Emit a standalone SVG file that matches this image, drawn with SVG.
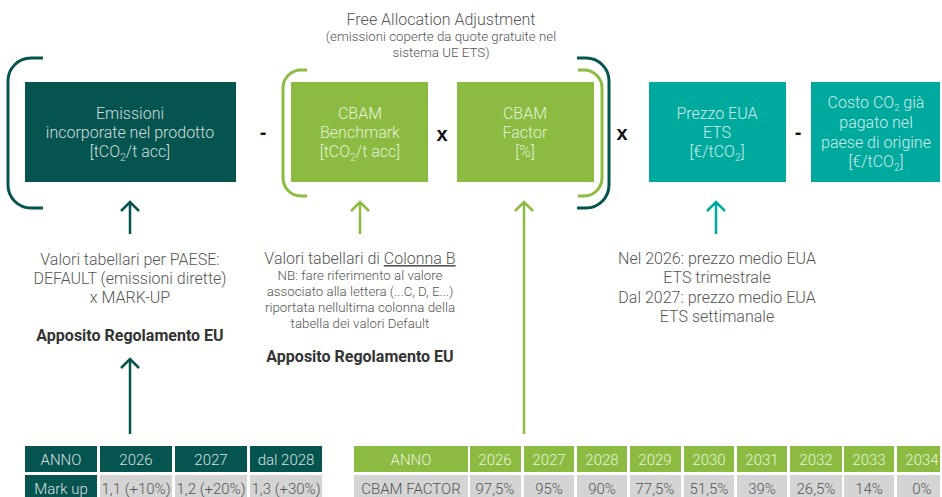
<svg xmlns="http://www.w3.org/2000/svg" width="942" height="497" viewBox="0 0 942 497">
<style>
.t{font-family:Roboto,"Liberation Sans",sans-serif;font-weight:300;text-anchor:middle}
.bx{fill:#ffffff;fill-opacity:0.82;font-size:16px}
.g{fill:#555555}
.b{font-family:Roboto,"Liberation Sans",sans-serif;font-weight:700;text-anchor:middle;fill:#333333;font-size:16px}
.op{font-family:"Liberation Sans",Arial,sans-serif;font-weight:900;text-anchor:middle;fill:#111111;font-size:20px}
.dk{fill:#06544f}.gr{fill:#8bbb40}.tl{fill:#00a99d}.lg{fill:#d4d4d4}
.br{fill:none;stroke-width:3}
.ar{fill:none;stroke-width:2.5;stroke-linecap:butt}
.th{fill:#ffffff;fill-opacity:0.85;font-size:15px}
.td{fill:#555555;font-size:15px}
</style>
<g id="title">
<text class="t g" x="441" y="25" font-size="16">Free Allocation Adjustment</text>
<text class="t g" x="441" y="41" font-size="13.3">(emissioni coperte da quote gratuite nel</text>
<text class="t g" x="441" y="57" font-size="13.3">sistema UE ETS)</text>
</g>
<g id="brackets">
<path class="br" stroke="#06544f" d="M43,58 H31 A23,23 0 0 0 8,81 V185 A23,23 0 0 0 31,208 H43"/>
<path class="br" stroke="#8bbb40" d="M307,70 H301 A18,18 0 0 0 283,88 V178 A18,18 0 0 0 301,196 H307"/>
<path class="br" stroke="#8bbb40" d="M578,70 H584 A18,18 0 0 1 602,88 V178 A18,18 0 0 1 584,196 H578"/>
<path class="br" stroke="#06544f" d="M577,58 H586 A23,23 0 0 1 609,81 V185 A23,23 0 0 1 586,208 H577"/>
</g>
<g id="node-emissioni">
<rect class="dk" x="25" y="82" width="211" height="100"/>
<text class="t bx" x="130" y="119">Emissioni</text>
<text class="t bx" x="130" y="138">incorporate nel prodotto</text>
<text class="t bx" x="130" y="157">[tCO<tspan font-size="10.5" dy="4">2</tspan><tspan dy="-4">/t acc]</tspan></text>
</g>
<g id="node-benchmark">
<rect class="gr" x="291" y="82" width="137" height="100"/>
<text class="t bx" x="360" y="119">CBAM</text>
<text class="t bx" x="360" y="138">Benchmark</text>
<text class="t bx" x="360" y="157">[tCO<tspan font-size="10.5" dy="4">2</tspan><tspan dy="-4">/t acc]</tspan></text>
</g>
<g id="node-factor">
<rect class="gr" x="457" y="82" width="137" height="100"/>
<text class="t bx" x="525" y="119">CBAM</text>
<text class="t bx" x="525" y="138">Factor</text>
<text class="t bx" x="525" y="157">[%]</text>
</g>
<g id="node-prezzo">
<rect class="tl" x="649" y="82" width="137" height="100"/>
<text class="t bx" x="717" y="119">Prezzo EUA</text>
<text class="t bx" x="717" y="138">ETS</text>
<text class="t bx" x="717" y="157">[€/tCO<tspan font-size="10.5" dy="4">2</tspan><tspan dy="-4">]</tspan></text>
</g>
<g id="node-costo">
<rect class="tl" x="811" y="82" width="129" height="100"/>
<text class="t bx" x="876" y="108">Costo CO<tspan font-size="9.5" dy="3">2</tspan><tspan dy="-3"> già</tspan></text>
<text class="t bx" x="876" y="128">pagato nel</text>
<text class="t bx" x="876" y="148">paese di origine</text>
<text class="t bx" x="876" y="167">[€/tCO<tspan font-size="10.5" dy="4">2</tspan><tspan dy="-4">]</tspan></text>
</g>
<g id="operators">
<text class="op" x="263" y="139">-</text>
<text class="op" x="442" y="141">x</text>
<text class="op" x="622" y="140">x</text>
<text class="op" x="798" y="139">-</text>
</g>
<g id="connectors">
<path class="ar" stroke="#06544f" d="M130,234 V202 M121,211 L130,202 L139,211"/>
<path class="ar" stroke="#06544f" d="M130,434 V359 M121,368 L130,359 L139,368"/>
<path class="ar" stroke="#8bbb40" d="M360,234 V202 M351,211 L360,202 L369,211"/>
<path class="ar" stroke="#8bbb40" d="M524,434 V202 M515,211 L524,202 L533,211"/>
<path class="ar" stroke="#00a99d" d="M716,234 V202 M707,211 L716,202 L725,211"/>
</g>
<g id="note-emissioni">
<text class="t g" x="130" y="265" font-size="16">Valori tabellari per PAESE:</text>
<text class="t g" x="130" y="284" font-size="16">DEFAULT (emissioni dirette)</text>
<text class="t g" x="130" y="303" font-size="16">x MARK-UP</text>
<text class="b" x="130" y="341">Apposito Regolamento EU</text>
</g>
<g id="note-benchmark">
<text class="t g" x="360" y="264" font-size="16">Valori tabellari di <tspan text-decoration="underline">Colonna B</tspan></text>
<text class="t g" x="360" y="280" font-size="13.3">NB: fare riferimento al valore</text>
<text class="t g" x="360" y="296" font-size="13.3">associato alla lettera (...C, D, E...)</text>
<text class="t g" x="360" y="312" font-size="13.3">riportata nellultima colonna della</text>
<text class="t g" x="360" y="328" font-size="13.3">tabella dei valori Default</text>
<text class="b" x="360" y="362">Apposito Regolamento EU</text>
</g>
<g id="note-prezzo">
<text class="t g" x="717" y="264" font-size="16">Nel 2026: prezzo medio EUA</text>
<text class="t g" x="717" y="283" font-size="16">ETS trimestrale</text>
<text class="t g" x="717" y="303" font-size="16">Dal 2027: prezzo medio EUA</text>
<text class="t g" x="717" y="322" font-size="16">ETS settimanale</text>
</g>
<g id="table-markup">
<rect class="dk" x="25" y="446" width="72" height="26"/>
<rect class="dk" x="100" y="446" width="72" height="26"/>
<rect class="dk" x="175" y="446" width="72" height="26"/>
<rect class="dk" x="250" y="446" width="72" height="26"/>
<rect class="dk" x="25" y="475" width="72" height="22"/>
<rect class="lg" x="100" y="475" width="72" height="22"/>
<rect class="lg" x="175" y="475" width="72" height="22"/>
<rect class="lg" x="250" y="475" width="72" height="22"/>
<text class="t th" x="61" y="465">ANNO</text>
<text class="t th" x="136" y="465">2026</text>
<text class="t th" x="211" y="465">2027</text>
<text class="t th" x="286" y="465">dal 2028</text>
<text class="t th" x="61" y="494">Mark up</text>
<text class="t td" x="136" y="494" font-size="14.5">1,1 (+10%)</text>
<text class="t td" x="211" y="494" font-size="14.5">1,2 (+20%)</text>
<text class="t td" x="286" y="494" font-size="14.5">1,3 (+30%)</text>
</g>
<g id="table-factor">
<rect class="gr" x="354" y="446" width="114" height="26"/>
<rect class="gr" x="470" y="446" width="51" height="26"/>
<rect class="gr" x="524" y="446" width="50" height="26"/>
<rect class="gr" x="577" y="446" width="50" height="26"/>
<rect class="gr" x="630" y="446" width="51" height="26"/>
<rect class="gr" x="684" y="446" width="50" height="26"/>
<rect class="gr" x="737" y="446" width="50" height="26"/>
<rect class="gr" x="790" y="446" width="52" height="26"/>
<rect class="gr" x="844" y="446" width="50" height="26"/>
<rect class="gr" x="897" y="446" width="43" height="26"/>
<rect class="lg" x="354" y="475" width="114" height="22"/>
<rect class="lg" x="470" y="475" width="51" height="22"/>
<rect class="lg" x="524" y="475" width="50" height="22"/>
<rect class="lg" x="577" y="475" width="50" height="22"/>
<rect class="lg" x="630" y="475" width="51" height="22"/>
<rect class="lg" x="684" y="475" width="50" height="22"/>
<rect class="lg" x="737" y="475" width="50" height="22"/>
<rect class="lg" x="790" y="475" width="52" height="22"/>
<rect class="lg" x="844" y="475" width="50" height="22"/>
<rect class="lg" x="897" y="475" width="43" height="22"/>
<text class="t th" x="411" y="465">ANNO</text>
<text class="t th" x="495" y="465">2026</text>
<text class="t th" x="549" y="465">2027</text>
<text class="t th" x="602" y="465">2028</text>
<text class="t th" x="655" y="465">2029</text>
<text class="t th" x="709" y="465">2030</text>
<text class="t th" x="762" y="465">2031</text>
<text class="t th" x="816" y="465">2032</text>
<text class="t th" x="869" y="465">2033</text>
<text class="t th" x="922" y="465">2034</text>
<text class="t td" x="411" y="494">CBAM FACTOR</text>
<text class="t td" x="495" y="494">97,5%</text>
<text class="t td" x="549" y="494">95%</text>
<text class="t td" x="602" y="494">90%</text>
<text class="t td" x="655" y="494">77,5%</text>
<text class="t td" x="709" y="494">51,5%</text>
<text class="t td" x="762" y="494">39%</text>
<text class="t td" x="816" y="494">26,5%</text>
<text class="t td" x="869" y="494">14%</text>
<text class="t td" x="922" y="494">0%</text>
</g>
</svg>
